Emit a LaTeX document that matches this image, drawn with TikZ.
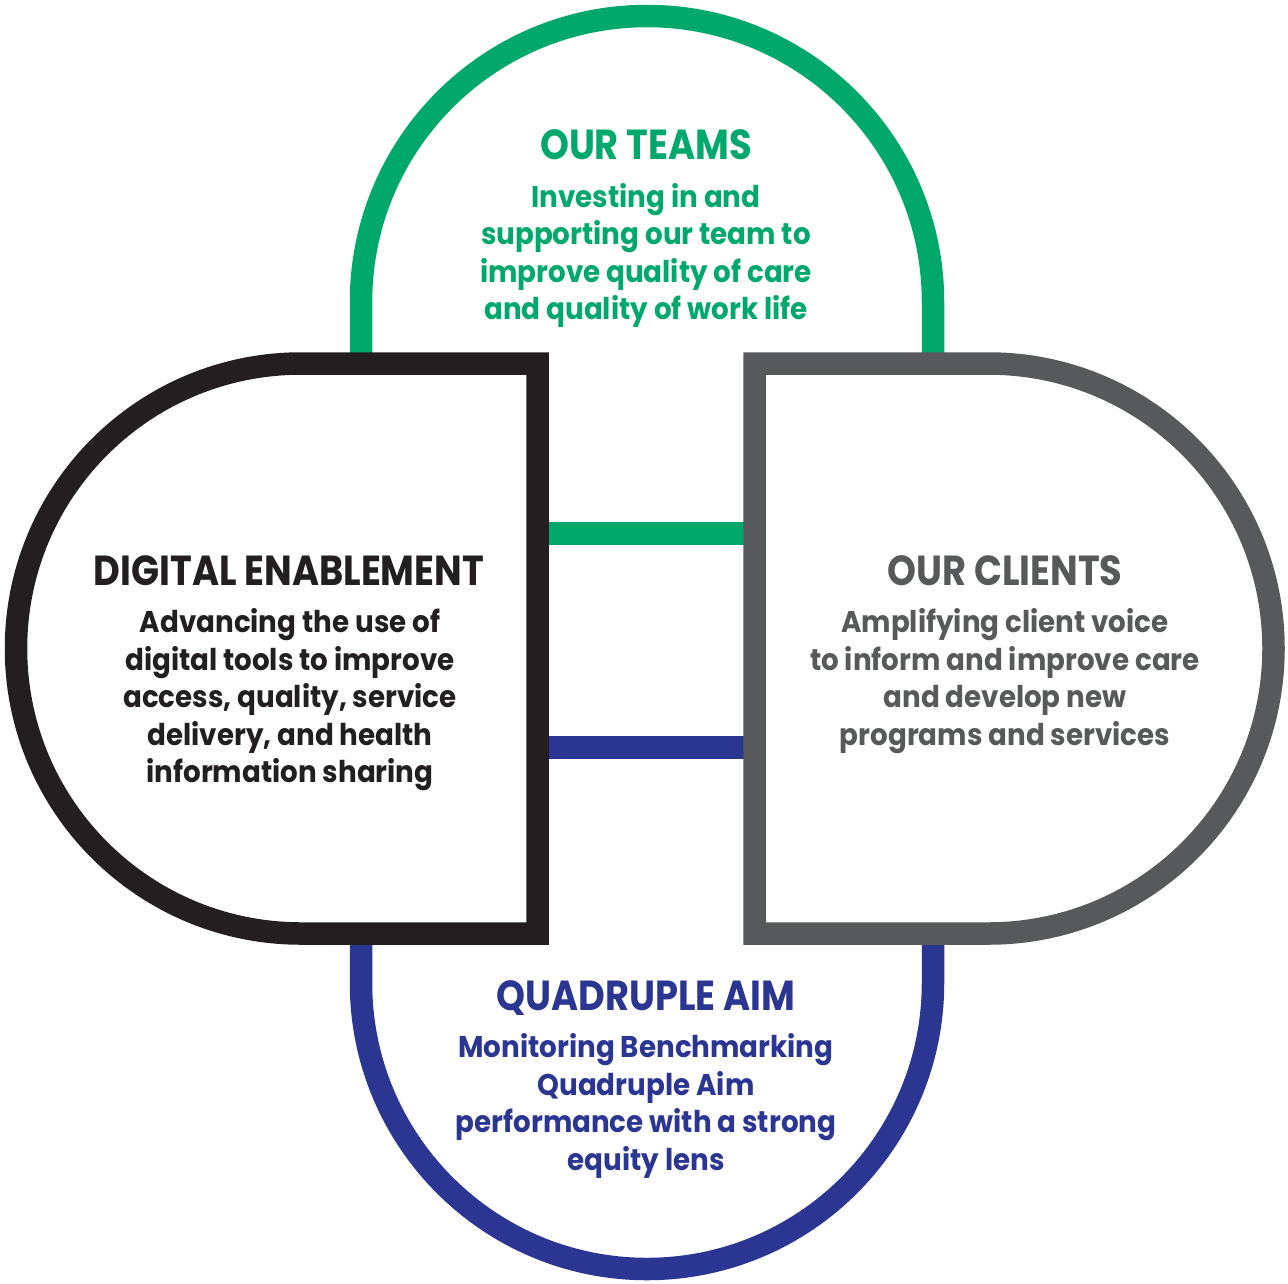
\documentclass[tikz,border=0pt]{standalone}
\usepackage{fontspec}
\setmainfont{Poppins}
\newfontfamily\titlefont[FakeStretch=0.876]{Poppins}
\newfontfamily\bodyfont[FakeStretch=0.925]{Poppins}
\definecolor{cgreen}{RGB}{0,168,107}
\definecolor{cblack}{RGB}{35,31,32}
\definecolor{cgray}{RGB}{88,89,91}
\definecolor{cblue}{RGB}{42,54,146}
\begin{document}
\begin{tikzpicture}[x=1pt,y=1pt,
  ring/.style={line width=22.5pt},
  ttl/.style={font=\fontsize{42}{46}\selectfont\titlefont\bfseries, inner sep=0pt, anchor=base},
  bdy/.style={font=\fontsize{30}{37.5}\selectfont\bodyfont\bfseries, inner sep=0pt, align=center, anchor=base}]
\useasboundingbox (0,0) rectangle (1288,-1283);
\fill[white] (0,0) rectangle (1288,-1283);
% outer arches
\draw[ring, cgreen] (361,-364) -- (361,-302) arc[start angle=180,end angle=0,radius=286] -- (933,-364);
\draw[ring, cblue] (361,-934) -- (361,-983) arc[start angle=180,end angle=360,radius=286] -- (933,-934);
% bars
\draw[ring, cgreen] (537,-533.5) -- (755,-533.5);
\draw[ring, cblue] (537,-747.5) -- (755,-747.5);
% D shapes
\draw[ring, cblack, fill=white] (537.5,-363.5) -- (301,-363.5) arc[start angle=90,end angle=270,radius=285] -- (537.5,-933.5) -- cycle;
\draw[ring, cgray, fill=white] (754.5,-363.5) -- (988.5,-363.5) arc[start angle=90,end angle=-90,radius=285] -- (754.5,-933.5) -- cycle;
% texts (base anchor = baseline of last line)
\node[ttl, cgreen] (teamsT) at (646,-159) {OUR TEAMS};
\node[bdy, cgreen] (teamsB) at (646,-319.5) {Investing in and\\supporting our team to\\improve quality of care\\and quality of work life};
\node[ttl, cblack] (digT) at (289,-585) {DIGITAL ENABLEMENT};
\node[bdy, cblack] (digB) at (290,-782.5) {Advancing the use of\\digital tools to improve\\access, quality, service\\delivery, and health\\information sharing};
\node[ttl, cgray] (cliT) at (1005,-585) {OUR CLIENTS};
\node[bdy, cgray] (cliB) at (1005,-745) {Amplifying client voice\\to inform and improve care\\and develop new\\programs and services};
\node[ttl, cblue] (quadT) at (646,-1010) {QUADRUPLE AIM};
\node[bdy, cblue] (quadB) at (646,-1170) {Monitoring Benchmarking\\Quadruple Aim\\performance with a strong\\equity lens};
\end{tikzpicture}
\end{document}
